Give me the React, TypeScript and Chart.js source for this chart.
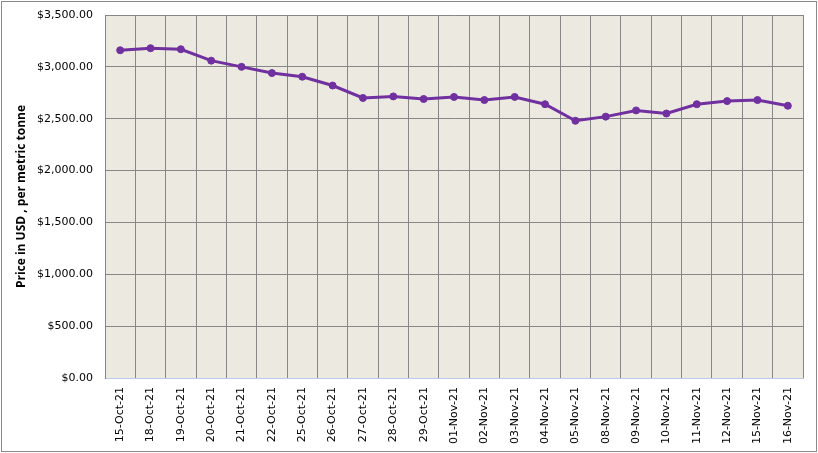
import React, { useEffect, useRef } from 'react'
import { Chart, registerables } from 'chart.js'

Chart.register(...registerables)

const dates = [
  '15-Oct-21', '18-Oct-21', '19-Oct-21', '20-Oct-21', '21-Oct-21', '22-Oct-21', '25-Oct-21', '26-Oct-21',
  '27-Oct-21', '28-Oct-21', '29-Oct-21', '01-Nov-21', '02-Nov-21', '03-Nov-21', '04-Nov-21', '05-Nov-21',
  '08-Nov-21', '09-Nov-21', '10-Nov-21', '11-Nov-21', '12-Nov-21', '15-Nov-21', '16-Nov-21',
]
const prices = [
  3160, 3180, 3170, 3060, 3000, 2940, 2905, 2820,
  2700, 2715, 2690, 2710, 2680, 2710, 2640, 2480,
  2520, 2580, 2550, 2640, 2670, 2680, 2625,
]
const yTitle = 'Price in USD , per metric tonne'

const frame = {
  id: 'frame',
  beforeDraw(chart: Chart) {
    const { ctx, chartArea: a } = chart
    ctx.save()
    ctx.fillStyle = '#ffffff'
    ctx.fillRect(0, 0, chart.width, chart.height)
    ctx.fillStyle = '#eceae0'
    ctx.fillRect(a.left, a.top, a.right - a.left, a.bottom - a.top)
    ctx.strokeStyle = '#8a8a8a'
    ctx.lineWidth = 1
    ctx.strokeRect(1.5, 1.5, chart.width - 3, chart.height - 3)
    ctx.restore()
  },
}

export default function App() {
  const canvasRef = useRef<HTMLCanvasElement>(null)

  useEffect(() => {
    document.body.style.margin = '0'
    if (!canvasRef.current) return
    const chart = new Chart(canvasRef.current, {
      type: 'line',
      data: {
        labels: dates,
        datasets: [
          {
            data: prices,
            borderColor: '#7030a0',
            backgroundColor: '#7030a0',
            borderWidth: 3,
            pointRadius: 3.5,
            pointBorderWidth: 1,
            pointHoverRadius: 3.5,
            tension: 0,
          },
        ],
      },
      options: {
        animation: false,
        responsive: false,
        layout: { padding: { top: 15, right: 15, left: 0, bottom: 0 } },
        plugins: { legend: { display: false }, tooltip: { enabled: false } },
        scales: {
          x: {
            offset: true,
            grid: { offset: true, color: '#868686', drawTicks: false },
            border: { color: '#b9cdea' },
            ticks: {
              minRotation: 90,
              maxRotation: 90,
              autoSkip: false,
              padding: 9,
              color: '#000',
              font: { family: 'DejaVu Sans', size: 11 },
            },
            afterFit: (s: any) => {
              s.height = 75
              s.paddingLeft = 0
              s.paddingRight = 0
            },
          },
          y: {
            min: 0,
            max: 3500,
            grid: { color: '#868686', drawTicks: false },
            border: { color: '#868686' },
            ticks: {
              stepSize: 500,
              padding: 12,
              color: '#000',
              font: { family: 'DejaVu Sans', size: 11 },
              callback: (v: any) => '$' + Number(v).toLocaleString('en-US', { minimumFractionDigits: 2, maximumFractionDigits: 2 }),
            },
            title: {
              display: true,
              text: yTitle,
              color: '#000',
              padding: { top: 14, bottom: 0 },
              font: { family: 'Open Sans', size: 12, weight: 'bold' },
            },
            afterFit: (s: any) => {
              s.width = 105
              s.paddingTop = 0
              s.paddingBottom = 0
            },
          },
        },
      },
      plugins: [frame],
    })
    return () => chart.destroy()
  }, [])

  return (
    <div style={{ width: 818, height: 453 }}>
      <canvas ref={canvasRef} width={818} height={453} style={{ display: 'block' }} />
    </div>
  )
}
